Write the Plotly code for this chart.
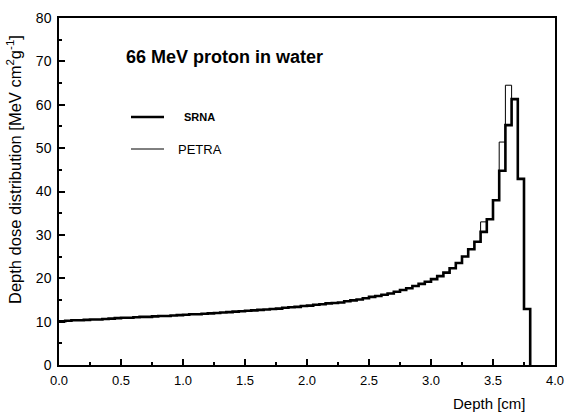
import plotly.graph_objects as go

# Bin starts (cm), bin width 0.05
bin_width = 0.05
bin_start = [round(i * 0.05, 2) for i in range(76)]

srna = [
    10.1, 10.2, 10.3, 10.3, 10.4, 10.5, 10.5, 10.6, 10.7, 10.8,
    10.9, 10.9, 11.0, 11.1, 11.1, 11.2, 11.3, 11.3, 11.4, 11.5,
    11.6, 11.7, 11.7, 11.8, 11.9, 12.0, 12.1, 12.2, 12.3, 12.4,
    12.5, 12.6, 12.7, 12.8, 12.9, 13.0, 13.2, 13.3, 13.4, 13.6,
    13.7, 13.9, 14.0, 14.2, 14.3, 14.4, 14.7, 14.9, 15.1, 15.4,
    15.7, 15.9, 16.2, 16.5, 16.9, 17.3, 17.7, 18.2, 18.7, 19.2,
    19.8, 20.5, 21.3, 22.3, 23.5, 25.0, 26.7, 28.4, 30.7, 33.6,
    38.0, 44.8, 55.3, 61.3, 42.9, 12.9, 1.6,
]
srna = srna[:76]

petra = list(srna)
petra[71] = 51.4   # 3.55-3.60
petra[72] = 64.5   # 3.60-3.65
petra[68] = 33.0   # 3.40-3.45

x_ticks = [0.0, 0.5, 1.0, 1.5, 2.0, 2.5, 3.0, 3.5, 4.0]
x_labels = ["0.0", "0.5", "1.0", "1.5", "2.0", "2.5", "3.0", "3.5", "4.0"]
y_ticks = [0, 10, 20, 30, 40, 50, 60, 70, 80]


def steps(starts, vals, w):
    xs = list(starts) + [round(starts[-1] + w, 2)]
    ys = list(vals) + [0]
    return xs, ys


fig = go.Figure()
px_, py_ = steps(bin_start, petra, bin_width)
fig.add_trace(go.Scatter(x=px_, y=py_, mode="lines", line=dict(shape="hv", color="black", width=1),
                         name="PETRA", showlegend=False))
sx, sy = steps(bin_start, srna, bin_width)
fig.add_trace(go.Scatter(x=sx, y=sy, mode="lines", line=dict(shape="hv", color="black", width=2.6),
                         name="SRNA", showlegend=False))

L, R, T, B = 59, 11, 18, 48
W, H = 566, 413
pw, ph = W - L - R, H - T - B


def pxx(p):
    return (p - L) / pw


def pxy(p):
    return (H - B - p) / ph


font = "Liberation Sans, Arial, Helvetica, sans-serif"

# legend samples
fig.add_shape(type="line", xref="paper", yref="paper", x0=pxx(131), x1=pxx(164), y0=pxy(117), y1=pxy(117),
              line=dict(color="black", width=2.6))
fig.add_shape(type="line", xref="paper", yref="paper", x0=pxx(131), x1=pxx(164), y0=pxy(149), y1=pxy(149),
              line=dict(color="black", width=1))
fig.add_annotation(xref="paper", yref="paper", x=pxx(182), y=pxy(117), xanchor="left", yanchor="middle",
                   text="<b>SRNA</b>", showarrow=False, font=dict(family=font, size=11, color="black"))
fig.add_annotation(xref="paper", yref="paper", x=pxx(176), y=pxy(149), xanchor="left", yanchor="middle",
                   text="PETRA", showarrow=False, font=dict(family=font, size=13, color="black"))
# title
fig.add_annotation(xref="paper", yref="paper", x=pxx(124), y=pxy(57), xanchor="left", yanchor="middle",
                   text="<b>66 MeV proton in water</b>", showarrow=False,
                   font=dict(family=font, size=18, color="black"))
# axis titles
fig.add_annotation(xref="paper", yref="paper", x=pxx(528), y=pxy(403), xanchor="right", yanchor="middle",
                   text="Depth [cm]", showarrow=False, font=dict(family=font, size=15, color="black"))
fig.add_annotation(xref="paper", yref="paper", x=pxx(14), y=pxy(170), xanchor="center", yanchor="middle",
                   textangle=-90, text="Depth dose distribution [MeV cm<sup>2</sup>g<sup>-1</sup>]",
                   showarrow=False, font=dict(family=font, size=16.5, color="black"))

fig.update_layout(
    width=W, height=H, autosize=False,
    margin=dict(l=L, r=R, t=T, b=B, pad=0, autoexpand=False),
    paper_bgcolor="white", plot_bgcolor="white",
    font=dict(family=font, size=12, color="black"),
    showlegend=False,
)
fig.update_xaxes(range=[0, 4.0], tickvals=x_ticks, ticktext=x_labels, ticks="inside", ticklen=6,
                 tickwidth=1.5, tickcolor="black", showgrid=False, zeroline=False, showline=True,
                 linecolor="black", linewidth=1.5, mirror=True, ticklabelstandoff=3, automargin=False,
                 minor=dict(dtick=0.25, ticks="inside", ticklen=3, tickcolor="black", showgrid=False),
                 tickfont=dict(size=13, family=font))
fig.update_yaxes(range=[0, 80], tickvals=y_ticks, ticks="inside", ticklen=6, tickwidth=1.5,
                 tickcolor="black", showgrid=False, zeroline=False, showline=True, linecolor="black",
                 linewidth=1.5, mirror=True, ticklabelstandoff=3, automargin=False,
                 minor=dict(dtick=5, ticks="inside", ticklen=3, tickcolor="black", showgrid=False),
                 tickfont=dict(size=14, family=font))

fig.write_html("out.html", config={"responsive": False, "displayModeBar": False},
               post_script="document.body.style.margin='0';document.body.style.overflow='hidden';")
